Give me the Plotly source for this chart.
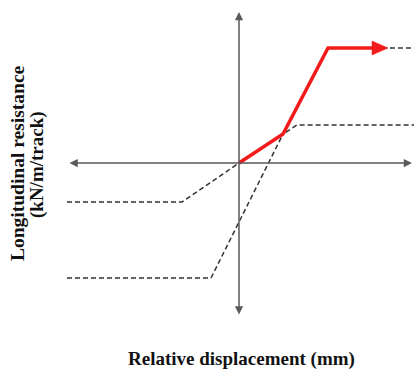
import plotly.graph_objects as go

# Idealised bilinear resistance laws (displacement / resistance in arbitrary units)
unloaded_x = [-17.2, -5.7, 0.0, 5.8, 17.6]
unloaded_y = [-3.9, -3.9, 0.0, 3.8, 3.8]

loaded_x = [-17.2, -2.8, 4.4, 8.9, 17.6]
loaded_y = [-11.5, -11.5, 2.9, 11.5, 11.5]

# Loading path followed by the track (red arrow)
path_x = [0.0, 4.4, 8.9, 14.9]
path_y = [0.0, 2.9, 11.5, 11.5]

# Axis extents (arrow tips)
x_axis_ends = [-17.1, 17.3]
y_axis_ends = [-15.3, 15.1]

x_title = "Relative displacement (mm)"
y_title_lines = ["Longitudinal resistance", "(kN/m/track)"]

AXIS_COLOR = "#5a5a5a"
DASH_COLOR = "#333333"
RED = "#f21a1a"
FONT = "Liberation Serif, Times New Roman, serif"
W, H = 414, 376

fig = go.Figure()

for xs, ys in [(unloaded_x, unloaded_y), (loaded_x, loaded_y)]:
    fig.add_trace(go.Scatter(
        x=xs, y=ys, mode="lines",
        line=dict(color=DASH_COLOR, width=1.5, dash="5px,3px"),
        hoverinfo="skip", showlegend=False,
    ))

# Red path: shaft stops short of the tip, arrowhead drawn as a filled triangle
head_len, head_half = 1.6, 0.7
shaft_x = path_x[:-1] + [path_x[-1] - head_len + 0.2]
shaft_y = path_y
fig.add_trace(go.Scatter(
    x=shaft_x, y=shaft_y, mode="lines",
    line=dict(color=RED, width=3.5),
    hoverinfo="skip", showlegend=False,
))
tip_x, tip_y = path_x[-1], path_y[-1]
fig.add_trace(go.Scatter(
    x=[tip_x - head_len, tip_x, tip_x - head_len, tip_x - head_len],
    y=[tip_y + head_half, tip_y, tip_y - head_half, tip_y + head_half],
    mode="lines", fill="toself", fillcolor=RED,
    line=dict(color=RED, width=0.5),
    hoverinfo="skip", showlegend=False,
))

# Coordinate axes with arrowheads
fig.add_annotation(
    x=x_axis_ends[1], y=0, ax=x_axis_ends[0], ay=0,
    xref="x", yref="y", axref="x", ayref="y",
    showarrow=True, arrowhead=2, arrowside="end+start",
    arrowsize=1.1, arrowwidth=1.5, arrowcolor=AXIS_COLOR, text="",
)
fig.add_annotation(
    x=0, y=y_axis_ends[1], ax=0, ay=y_axis_ends[0],
    xref="x", yref="y", axref="x", ayref="y",
    showarrow=True, arrowhead=2, arrowside="end+start",
    arrowsize=1.1, arrowwidth=1.5, arrowcolor=AXIS_COLOR, text="",
)


def px_annotation(cx, cy, text, size, angle=0):
    fig.add_annotation(
        x=cx / W, y=1 - cy / H, xref="paper", yref="paper",
        xanchor="center", yanchor="middle",
        text=f"<b>{text}</b>", showarrow=False, textangle=angle,
        font=dict(family=FONT, size=size, color="#111111"),
    )


# Axis titles
px_annotation(241, 359, x_title, 19)
px_annotation(17, 163, y_title_lines[0], 19.5, -90)
px_annotation(37, 165, y_title_lines[1], 19, -90)

fig.update_layout(
    width=W, height=H,
    margin=dict(l=0, r=0, t=0, b=0),
    paper_bgcolor="white", plot_bgcolor="white",
    xaxis=dict(range=[-23.9, 17.5], visible=False, fixedrange=True),
    yaxis=dict(range=[-21.3, 16.3], visible=False, fixedrange=True),
)

fig.write_html("out.html")
